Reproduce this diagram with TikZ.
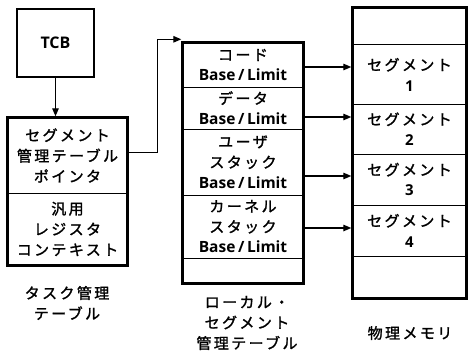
\documentclass[tikz,border=0pt]{standalone}
\usepackage{fontspec}
\setmainfont{Noto Sans CJK JP}[LetterSpace=16, FakeBold=1.5]
\newfontfamily\lat{Open Sans}
\usetikzlibrary{arrows.meta,fit}
\tikzset{
  row/.style={draw, line width=1pt, inner sep=0pt, align=center, font=\fontsize{15}{20.5}\selectfont},
  outer/.style={draw, line width=2.4pt, inner sep=0pt},
  conn/.style={line width=1.3pt, -{Triangle[length=8pt,width=6.5pt]}},
  lbl/.style={align=center, font=\fontsize{15}{20.5}\selectfont},
}
\newcommand{\BL}{{\lat\bfseries\fontsize{15.5}{20.5}\selectfont Base\,/\,Limit}}
\newcommand{\num}[1]{{\lat\bfseries\fontsize{15}{20.5}\selectfont #1}}
\begin{document}
\begin{tikzpicture}[x=1pt,y=-1pt]
\useasboundingbox (0,0) rectangle (468,353);
% TCB
\node[outer, minimum width=77pt, minimum height=68pt] (tcb) at (55.5,43) {\lat\bfseries\fontsize{16}{18}\selectfont TCB};
% task table
\node[row, minimum width=119pt, minimum height=75pt] (t1) at (67.5,155.5) {セグメント\\管理テーブル\\ポインタ};
\node[row, minimum width=119pt, minimum height=72pt] (t2) at (67.5,229) {汎用\\レジスタ\\コンテキスト};
\node[outer, fit=(t1)(t2)] (ttab) {};
\node[lbl] (tlbl) at (67,303) {タスク管理\\テーブル};
% local segment table
\node[row, minimum width=120pt, minimum height=44pt] (l1) at (243,65) {コード\\\BL};
\node[row, minimum width=120pt, minimum height=42pt] (l2) at (243,108) {データ\\\BL};
\node[row, minimum width=120pt, minimum height=66pt] (l3) at (243,162) {ユーザ\\スタック\\\BL};
\node[row, minimum width=120pt, minimum height=63pt] (l4) at (243,226.5) {カーネル\\スタック\\\BL};
\node[row, minimum width=120pt, minimum height=25pt] (l5) at (243,270.5) {};
\node[outer, fit=(l1)(l5)] (ltab) {};
\node[lbl] (llbl) at (247,323) {ローカル・\\セグメント\\管理テーブル};
% physical memory
\node[row, minimum width=113pt, minimum height=37pt] (p0) at (409.5,26.5) {};
\node[row, minimum width=113pt, minimum height=59pt] (p1) at (409.5,74.5) {セグメント\\\num{1}};
\node[row, minimum width=113pt, minimum height=50pt] (p2) at (409.5,129) {セグメント\\\num{2}};
\node[row, minimum width=113pt, minimum height=51pt] (p3) at (409.5,179.5) {セグメント\\\num{3}};
\node[row, minimum width=113pt, minimum height=51pt] (p4) at (409.5,230.5) {セグメント\\\num{4}};
\node[row, minimum width=113pt, minimum height=42pt] (p5) at (409.5,277) {};
\node[outer, fit=(p0)(p5)] (ptab) {};
\node[lbl] (plbl) at (410,333) {物理メモリ};
% connectors
\draw[conn] (tcb.south) -- (tcb.south |- ttab.north);
\draw[conn] ([yshift=3pt]t1.east) -- ++(30,0) |- ([yshift=2pt]ltab.north west);
\draw[conn] ([yshift=-2pt]l1.east) -- ([yshift=-2pt]l1.east -| ptab.west);
\draw[conn] ([yshift=-9pt]l2.east) -- ([yshift=-9pt]l2.east -| ptab.west);
\draw[conn] ([yshift=-14pt]l3.east) -- ([yshift=-14pt]l3.east -| ptab.west);
\draw[conn] ([yshift=-1.5pt]l4.east) -- ([yshift=-1.5pt]l4.east -| ptab.west);
\end{tikzpicture}
\end{document}
